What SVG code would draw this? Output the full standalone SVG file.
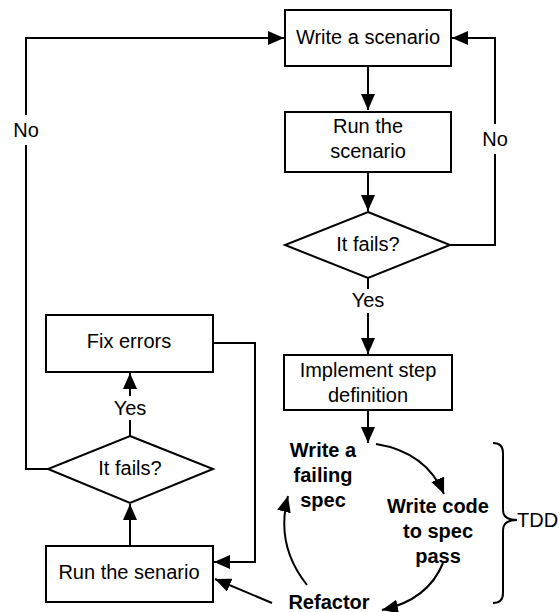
<svg xmlns="http://www.w3.org/2000/svg" width="559" height="612" viewBox="0 0 559 612">
  <defs>
    <marker id="arrow" markerUnits="userSpaceOnUse" markerWidth="17" markerHeight="14" refX="16" refY="7" orient="auto">
      <path d="M0,0 L16,7 L0,14 Z" fill="#000"/>
    </marker>
    <style>
      .box { fill: #fff; stroke: #000; stroke-width: 2; }
      .line { fill: none; stroke: #000; stroke-width: 2; }
      .arrowed { marker-end: url(#arrow); }
      .label { font-family: "Liberation Sans", Arial, sans-serif; font-size: 20px; fill: #000; text-anchor: middle; }
      .bold { font-weight: bold; }
      .edge-label { font-family: "Liberation Sans", Arial, sans-serif; font-size: 20px; fill: #000; text-anchor: middle; }
      .start { text-anchor: start; }
    </style>
  </defs>
  <rect width="559" height="612" fill="#fff"/>

  <!-- connectors -->
  <g id="connectors">
    <path class="line arrowed" d="M368,66 L368,110"/>
    <path class="line arrowed" d="M368,172 L368,211"/>
    <path class="line" d="M450,245 L495,245 L495,154"/>
    <path class="line arrowed" d="M495,124 L495,38 L452,38"/>
    <path class="line" d="M368,278 L368,289"/>
    <path class="line arrowed" d="M368,313 L368,354"/>
    <path class="line arrowed" d="M368,410 L368,443"/>
    <path class="line" d="M48,469 L26,469 L26,145"/>
    <path class="line arrowed" d="M26,115 L26,38 L284,38"/>
    <path class="line" d="M130,436 L130,420"/>
    <path class="line arrowed" d="M130,396 L130,373"/>
    <path class="line arrowed" d="M130,546 L130,504"/>
    <path class="line arrowed" d="M213,343 L255,343 L255,562 L214,562"/>
    <path class="line arrowed" d="M272,603 L215,579"/>
    <!-- TDD cycle -->
    <path class="line arrowed" d="M376,444 Q426,452 444,494"/>
    <path class="line arrowed" d="M443,563 Q428,600 382,610"/>
    <path class="line arrowed" d="M307,585 Q275,545 288,496"/>
  </g>

  <!-- edge labels -->
  <g id="edge-labels">
    <text class="edge-label" x="495" y="146">No</text>
    <text class="edge-label" x="26" y="137">No</text>
    <text class="edge-label" x="368" y="307">Yes</text>
    <text class="edge-label" x="130" y="415">Yes</text>
  </g>

  <g id="write-scenario">
    <rect class="box" x="285" y="10" width="166" height="56"/>
    <text class="label" x="368" y="44">Write a scenario</text>
  </g>

  <g id="run-scenario">
    <rect class="box" x="285" y="112" width="166" height="60"/>
    <text class="label" x="368" y="133">Run the</text>
    <text class="label" x="368" y="158">scenario</text>
  </g>

  <g id="fails-top">
    <polygon class="box" points="368,212 450,245 368,278 285,245"/>
    <text class="label" x="368" y="251">It fails?</text>
  </g>

  <g id="implement-step">
    <rect class="box" x="284" y="355" width="168" height="55"/>
    <text class="label" x="368" y="377">Implement step</text>
    <text class="label" x="368" y="402">definition</text>
  </g>

  <g id="fix-errors">
    <rect class="box" x="46" y="315" width="167" height="57"/>
    <text class="label" x="129" y="348">Fix errors</text>
  </g>

  <g id="fails-bottom">
    <polygon class="box" points="130,436 213,469 130,503 48,469"/>
    <text class="label" x="130" y="475">It fails?</text>
  </g>

  <g id="run-senario">
    <rect class="box" x="46" y="546" width="167" height="56"/>
    <text class="label" x="129" y="579">Run the senario</text>
  </g>

  <g id="write-failing-spec">
    <text class="label bold" x="323" y="457">Write a</text>
    <text class="label bold" x="323" y="482">failing</text>
    <text class="label bold" x="323" y="507">spec</text>
  </g>

  <g id="write-code">
    <text class="label bold" x="438" y="513">Write code</text>
    <text class="label bold" x="438" y="538">to spec</text>
    <text class="label bold" x="438" y="563">pass</text>
  </g>

  <g id="refactor">
    <text class="label bold" x="329" y="609">Refactor</text>
  </g>

  <g id="tdd">
    <path class="line" d="M493,443 Q503,443 503,453 L503,510 Q503,520 517,520 Q503,520 503,530 L503,593 Q503,603 493,603"/>
    <text class="label start" x="517" y="527">TDD</text>
  </g>
</svg>
